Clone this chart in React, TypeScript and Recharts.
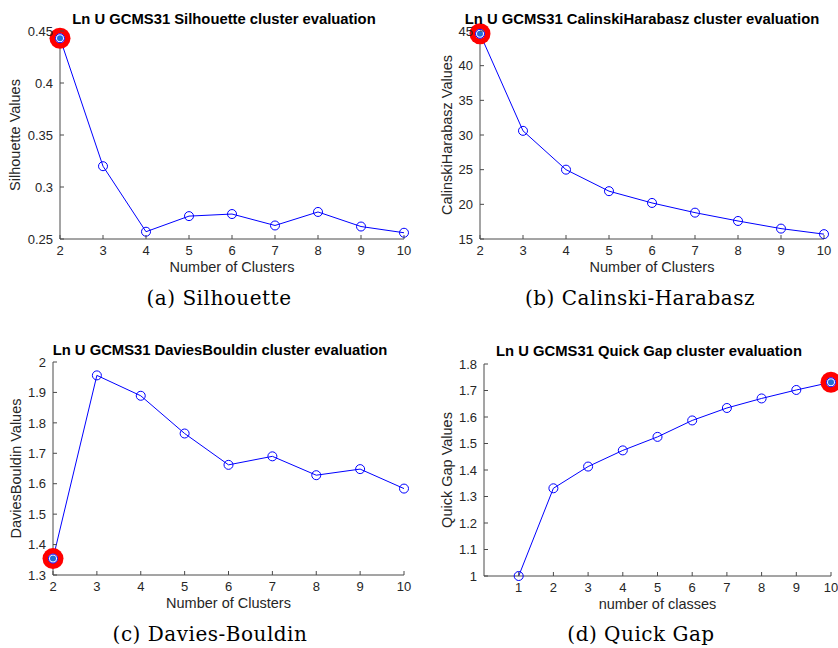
import { Line, LineChart, XAxis, YAxis } from "recharts";

const clusters = [2, 3, 4, 5, 6, 7, 8, 9, 10];
const silhouette = [0.443, 0.32, 0.257, 0.272, 0.274, 0.263, 0.276, 0.262, 0.256];
const calinski = [44.6, 30.6, 25.0, 21.9, 20.2, 18.8, 17.6, 16.5, 15.7];
const davies = [1.354, 1.956, 1.889, 1.765, 1.662, 1.69, 1.628, 1.648, 1.584];
const classes = [1, 2, 3, 4, 5, 6, 7, 8, 9, 10];
const quickGap = [1.0, 1.331, 1.413, 1.474, 1.525, 1.587, 1.634, 1.67, 1.702, 1.731];

const silTicks = [0.25, 0.3, 0.35, 0.4, 0.45];
const chTicks = [15, 20, 25, 30, 35, 40, 45];
const dbTicks = [1.3, 1.4, 1.5, 1.6, 1.7, 1.8, 1.9, 2];
const qgTicks = [1, 1.1, 1.2, 1.3, 1.4, 1.5, 1.6, 1.7, 1.8];

const AXIS = "#4a4a4a";
const TXT = "#262626";
const SANS = "'Liberation Sans', Arial, sans-serif";
const TICK_LEN = 4;
const TICK_FONT = 13;

type Side = "bottom" | "top" | "left" | "right";

// ticks point inward like matlab; labels only on bottom/left
const makeTick = (side: Side) => (p: any) => {
  const { x, y, payload } = p;
  const label = String(payload.value);
  if (side === "bottom") {
    return (
      <g>
        <line x1={x} y1={y} x2={x} y2={y - TICK_LEN} stroke={AXIS} />
        <text x={x} y={y + 16} textAnchor="middle" fill={TXT} fontSize={TICK_FONT} fontFamily={SANS}>
          {label}
        </text>
      </g>
    );
  }
  if (side === "left") {
    return (
      <g>
        <line x1={x} y1={y} x2={x + TICK_LEN} y2={y} stroke={AXIS} />
        <text x={x - 7} y={y} dy="0.36em" textAnchor="end" fill={TXT} fontSize={TICK_FONT} fontFamily={SANS}>
          {label}
        </text>
      </g>
    );
  }
  if (side === "top") return <line x1={x} y1={y} x2={x} y2={y + TICK_LEN} stroke={AXIS} />;
  return <line x1={x} y1={y} x2={x - TICK_LEN} y2={y} stroke={AXIS} />;
};

type PanelProps = {
  left: number;
  top: number;
  width: number;
  height: number;
  plot: { l: number; t: number; r: number; b: number };
  xs: number[];
  ys: number[];
  xDomain: [number, number];
  xTicks: number[];
  yDomain: [number, number];
  yTicks: number[];
  best: number;
  title: string;
  titlePos: [number, number];
  xLabel: string;
  yLabel: string;
  yLabelX: number;
  caption: string;
  captionPos: [number, number];
};

function Panel(props: PanelProps) {
  const { left, top, width, height, plot, xs, ys, best } = props;
  const data = xs.map((x, i) => ({ x, y: ys[i] }));
  const XH = 36;

  const renderDot = (p: any) => {
    const { cx, cy, index } = p;
    if (index === best) {
      return (
        <g key={`d${index}`}>
          <circle cx={cx} cy={cy} r={10.5} fill="#ff0000" />
          <circle cx={cx} cy={cy} r={4.8} fill="#ffffff" />
          <circle cx={cx} cy={cy} r={3} fill="#1f6fd6" />
          <circle cx={cx} cy={cy} r={4.5} fill="none" stroke="#0000ff" strokeWidth={1} />
        </g>
      );
    }
    return <circle key={`d${index}`} cx={cx} cy={cy} r={4.5} fill="none" stroke="#0000ff" strokeWidth={1} />;
  };

  return (
    <div style={{ position: "absolute", left, top, width, height }}>
      <LineChart
        width={width}
        height={height}
        data={data}
        margin={{ top: plot.t, right: width - plot.r, bottom: height - plot.b - XH, left: 0 }}
      >
        <XAxis
          dataKey="x"
          type="number"
          domain={props.xDomain}
          ticks={props.xTicks}
          interval={0}
          height={XH}
          tickSize={0}
          tickMargin={0}
          tickLine={false}
          axisLine={{ stroke: AXIS }}
          tick={makeTick("bottom")}
          label={{ value: props.xLabel, position: "insideBottom", offset: 3, fill: TXT, fontSize: 14.5, fontFamily: SANS }}
        />
        <XAxis
          xAxisId="top"
          orientation="top"
          dataKey="x"
          type="number"
          domain={props.xDomain}
          ticks={props.xTicks}
          interval={0}
          height={0}
          tickSize={0}
          tickMargin={0}
          tickLine={false}
          axisLine={{ stroke: AXIS }}
          tick={makeTick("top")}
        />
        <YAxis
          type="number"
          domain={props.yDomain}
          ticks={props.yTicks}
          interval={0}
          width={plot.l}
          tickSize={0}
          tickMargin={0}
          tickLine={false}
          axisLine={{ stroke: AXIS }}
          tick={makeTick("left")}
          label={{
            value: props.yLabel,
            angle: -90,
            position: "insideLeft",
            offset: props.yLabelX,
            fill: TXT,
            fontSize: 14.5,
            fontFamily: SANS,
            style: { textAnchor: "middle" },
          }}
        />
        <YAxis
          yAxisId="right"
          orientation="right"
          type="number"
          domain={props.yDomain}
          ticks={props.yTicks}
          interval={0}
          width={0}
          tickSize={0}
          tickMargin={0}
          tickLine={false}
          axisLine={{ stroke: AXIS }}
          tick={makeTick("right")}
        />
        <Line
          type="linear"
          dataKey="y"
          stroke="#0000ff"
          strokeWidth={1}
          dot={renderDot}
          activeDot={false}
          isAnimationActive={false}
        />
      </LineChart>
      <div
        style={{
          position: "absolute",
          left: props.titlePos[0],
          top: props.titlePos[1],
          transform: "translate(-50%, -50%)",
          whiteSpace: "nowrap",
          fontFamily: SANS,
          fontWeight: "bold",
          fontSize: 14.8,
          color: "#000",
        }}
      >
        {props.title}
      </div>
      <div
        style={{
          position: "absolute",
          left: props.captionPos[0],
          top: props.captionPos[1],
          transform: "translate(-50%, -50%)",
          whiteSpace: "nowrap",
          fontFamily: "'DejaVu Serif', serif",
          fontSize: 20,
          letterSpacing: 0.5,
          color: "#000",
        }}
      >
        {props.caption}
      </div>
    </div>
  );
}

export default function App() {
  return (
    <div style={{ position: "absolute", left: 0, top: 0, width: 838, height: 648, background: "#fff" }}>
      <Panel
        left={0}
        top={0}
        width={420}
        height={320}
        plot={{ l: 60, t: 31, r: 404, b: 239 }}
        xs={clusters}
        ys={silhouette}
        xDomain={[2, 10]}
        xTicks={clusters}
        yDomain={[0.25, 0.45]}
        yTicks={silTicks}
        best={0}
        title="Ln U GCMS31 Silhouette cluster evaluation"
        titlePos={[224, 18.5]}
        xLabel="Number of Clusters"
        yLabel="Silhouette Values"
        yLabelX={15}
        caption="(a) Silhouette"
        captionPos={[219, 298]}
      />
      <Panel
        left={420}
        top={0}
        width={418}
        height={320}
        plot={{ l: 60, t: 31, r: 404, b: 239 }}
        xs={clusters}
        ys={calinski}
        xDomain={[2, 10]}
        xTicks={clusters}
        yDomain={[15, 45]}
        yTicks={chTicks}
        best={0}
        title="Ln U GCMS31 CalinskiHarabasz cluster evaluation"
        titlePos={[222, 18.8]}
        xLabel="Number of Clusters"
        yLabel="CalinskiHarabasz Values"
        yLabelX={27}
        caption="(b) Calinski-Harabasz"
        captionPos={[220, 298]}
      />
      <Panel
        left={0}
        top={330}
        width={420}
        height={318}
        plot={{ l: 53, t: 32, r: 404, b: 245 }}
        xs={clusters}
        ys={davies}
        xDomain={[2, 10]}
        xTicks={clusters}
        yDomain={[1.3, 2]}
        yTicks={dbTicks}
        best={0}
        title="Ln U GCMS31 DaviesBouldin cluster evaluation"
        titlePos={[220, 20]}
        xLabel="Number of Clusters"
        yLabel="DaviesBouldin Values"
        yLabelX={16}
        caption="(c) Davies-Bouldin"
        captionPos={[210, 304]}
      />
      <Panel
        left={420}
        top={330}
        width={418}
        height={318}
        plot={{ l: 64, t: 34, r: 411, b: 246 }}
        xs={classes}
        ys={quickGap}
        xDomain={[0, 10]}
        xTicks={classes}
        yDomain={[1, 1.8]}
        yTicks={qgTicks}
        best={9}
        title="Ln U GCMS31 Quick Gap cluster evaluation"
        titlePos={[229, 21]}
        xLabel="number of classes"
        yLabel="Quick Gap Values"
        yLabelX={27}
        caption="(d) Quick Gap"
        captionPos={[221, 304]}
      />
    </div>
  );
}
